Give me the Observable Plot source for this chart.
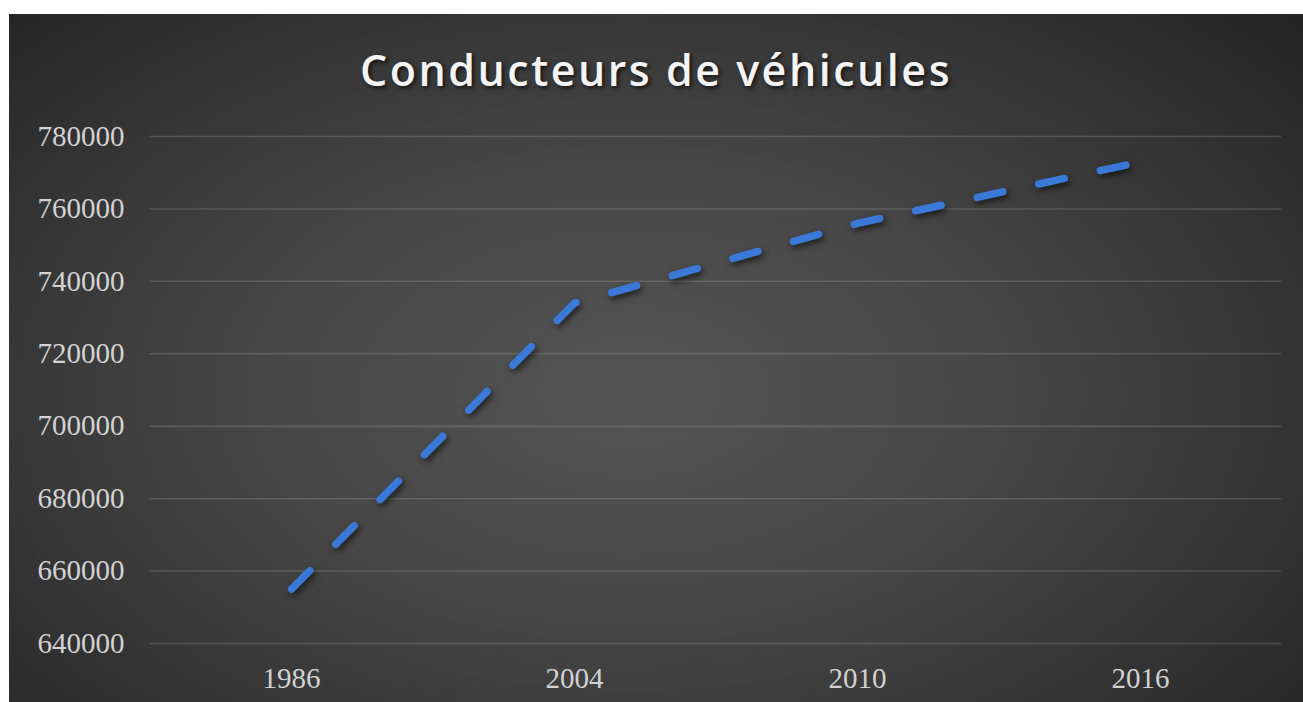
<!DOCTYPE html>
<html>
<head>
<meta charset="utf-8">
<script src="https://cdn.jsdelivr.net/npm/d3@7"></script>
<script src="https://cdn.jsdelivr.net/npm/@observablehq/plot@0.6"></script>
<style>
  html, body { margin: 0; padding: 0; background: #ffffff; width: 1303px; height: 702px; overflow: hidden; }
  #frame {
    position: absolute; left: 9px; top: 14px; width: 1294px; height: 688px;
    background: radial-gradient(ellipse 70% 80% at 48% 55%, #555555 0%, #474747 40%, #333333 75%, #242424 100%);
    overflow: hidden;
  }
  #title {
    position: absolute; left: 0; top: 6px; width: 100%; height: 100px;
    text-align: center; color: #f4f4f4;
    font-family: "Open Sans", sans-serif; font-weight: 600; font-size: 43px;
    letter-spacing: 2.5px; line-height: 100px;
    text-shadow: 2px 2px 4px rgba(0,0,0,0.7);
  }
  #chart { position: absolute; left: 0; top: 100px; }
</style>
</head>
<body>
<div id="frame">
  <div id="title">Conducteurs de véhicules</div>
  <div id="chart"></div>
</div>
<script>
const years = ["1986", "2004", "2010", "2016"];
const drivers = [655000, 734000, 756000, 773000];
const yTicks = [640000, 660000, 680000, 700000, 720000, 740000, 760000, 780000];

const data = years.map((year, i) => ({year, value: drivers[i]}));

const plot = Plot.plot({
  width: 1294,
  height: 588,
  marginTop: 22,
  marginBottom: 59,
  marginLeft: 140,
  marginRight: 22,
  style: {background: "transparent", color: "#d2d2d2", fontFamily: "'Liberation Serif', serif", fontSize: "29px", overflow: "visible"},
  x: {type: "point", domain: years, padding: 0.5},
  y: {domain: [640000, 780000]},
  marks: [
    Plot.ruleY(yTicks, {stroke: "#cfcfcf", strokeOpacity: 0.2, strokeWidth: 1.5}),
    Plot.axisY({ticks: yTicks, tickSize: 0, tickPadding: 25, tickFormat: d => String(d), label: null}),
    Plot.axisX({tickSize: 0, tickPadding: 24, label: null}),
    Plot.line(data, {x: "year", y: "value", stroke: "#3b79d8", strokeWidth: 7.5, strokeDasharray: "26,37", strokeLinecap: "round", strokeLinejoin: "round"})
  ]
});
document.getElementById("chart").appendChild(plot);
plot.querySelectorAll('g[aria-label="line"] path').forEach(p => {
  p.style.filter = "drop-shadow(2px 3px 3px rgba(0,0,0,0.6))";
});
</script>
</body>
</html>
